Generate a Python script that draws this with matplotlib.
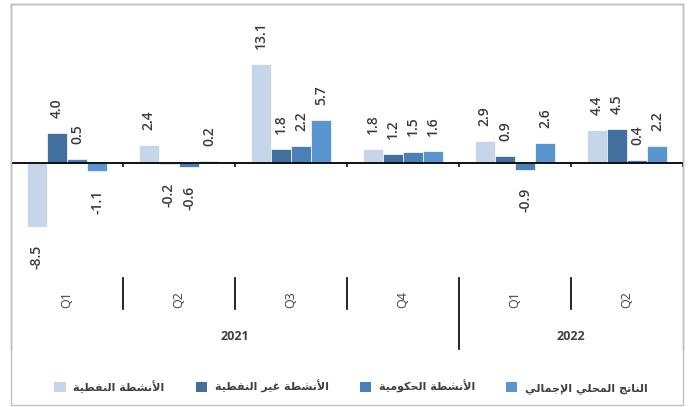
import numpy as np
import matplotlib
matplotlib.use('Agg')
from matplotlib import pyplot as plt
from matplotlib.patches import Rectangle, Patch
from matplotlib.transforms import blended_transform_factory

# data
quarters = ['Q1', 'Q2', 'Q3', 'Q4', 'Q1', 'Q2']
years = ['2021', '2022']
year_span = [(0, 3), (4, 5)]
oil = [-8.5, 2.4, 13.1, 1.8, 2.9, 4.4]
nonoil = [4.0, -0.2, 1.8, 1.2, 0.9, 4.5]
gov = [0.5, -0.6, 2.2, 1.5, -0.9, 0.4]
gdp = [-1.1, 0.2, 5.7, 1.6, 2.6, 2.2]
names = ['الأنشطة النفطية', 'الأنشطة غير النفطية', 'الأنشطة الحكومية', 'الناتج المحلي الإجمالي']
colors = ['#c5d5ea', '#41709c', '#4a80b5', '#5896cf']

# minimal arabic shaping (matplotlib has no bidi / joining)
# forms: isolated, final, initial, medial (None -> letter does not join to the next)
FORMS = {
    'ا': (0xFE8D, 0xFE8E, None, None), 'أ': (0xFE83, 0xFE84, None, None),
    'إ': (0xFE87, 0xFE88, None, None), 'ة': (0xFE93, 0xFE94, None, None),
    'ر': (0xFEAD, 0xFEAE, None, None), 'و': (0xFEED, 0xFEEE, None, None),
    'ل': (0xFEDD, 0xFEDE, 0xFEDF, 0xFEE0), 'ن': (0xFEE5, 0xFEE6, 0xFEE7, 0xFEE8),
    'ش': (0xFEB5, 0xFEB6, 0xFEB7, 0xFEB8), 'ط': (0xFEC1, 0xFEC2, 0xFEC3, 0xFEC4),
    'ف': (0xFED1, 0xFED2, 0xFED3, 0xFED4), 'ي': (0xFEF1, 0xFEF2, 0xFEF3, 0xFEF4),
    'غ': (0xFECD, 0xFECE, 0xFECF, 0xFED0), 'ح': (0xFEA1, 0xFEA2, 0xFEA3, 0xFEA4),
    'ك': (0xFED9, 0xFEDA, 0xFEDB, 0xFEDC), 'م': (0xFEE1, 0xFEE2, 0xFEE3, 0xFEE4),
    'ت': (0xFE95, 0xFE96, 0xFE97, 0xFE98), 'ج': (0xFE9D, 0xFE9E, 0xFE9F, 0xFEA0),
}
LAMALEF = {'ا': (0xFEFB, 0xFEFC), 'أ': (0xFEF7, 0xFEF8), 'إ': (0xFEF9, 0xFEFA)}


def shape(text):
    out = []
    for word in text.split(' '):
        # merge lam + alef
        units = []
        i = 0
        while i < len(word):
            if word[i] == 'ل' and i + 1 < len(word) and word[i + 1] in LAMALEF:
                units.append(('LA', word[i + 1]))
                i += 2
            else:
                units.append(('C', word[i]))
                i += 1
        res = []
        for k, (kind, ch) in enumerate(units):
            prev_joins = k > 0 and units[k - 1][0] == 'C' and FORMS[units[k - 1][1]][2] is not None
            if kind == 'LA':
                res.append(chr(LAMALEF[ch][1 if prev_joins else 0]))
                continue
            f = FORMS[ch]
            next_ok = k + 1 < len(units) and f[2] is not None
            if prev_joins and next_ok:
                res.append(chr(f[3]))
            elif prev_joins:
                res.append(chr(f[1]))
            elif next_ok:
                res.append(chr(f[2]))
            else:
                res.append(chr(f[0]))
        out.append(''.join(res))
    return ' '.join(out)[::-1]


W, H = 691, 407
fig = plt.figure(figsize=(W / 100, H / 100), dpi=100)
ax_l, ax_r, ax_t, ax_b = 11, 683, 4, 349
ax = fig.add_axes([ax_l / W, 1 - ax_b / H, (ax_r - ax_l) / W, (ax_b - ax_t) / H])

x = np.arange(len(quarters))
bw = 0.18
series = [oil, nonoil, gov, gdp]
for j, (vals, c) in enumerate(zip(series, colors)):
    pos = x + (j - 1.5) * bw
    ax.bar(pos, vals, bw, color=c, edgecolor='white', linewidth=0.5, zorder=2)
    for px, v in zip(pos, vals):
        ax.annotate('%.1f' % v, (px, v), xytext=(0, 11 if v >= 0 else -13),
                    textcoords='offset points', rotation=90, ha='center',
                    va='bottom' if v >= 0 else 'top', fontsize=10,
                    family='Open Sans', fontweight='semibold', color='#3a3a3a')

ax.set_xlim(-0.5, len(quarters) - 0.5)
ax.set_ylim(-24.7, 21.1)
ax.axhline(0, color='black', lw=1.3, zorder=3)
ax.set_xticks([])
ax.set_yticks([])
for s in ['left', 'right', 'top']:
    ax.spines[s].set_color('#a0a0a0')
    ax.spines[s].set_linewidth(1)
ax.spines['bottom'].set_visible(False)

# small ticks under zero line
bounds = np.arange(len(quarters) + 1) - 0.5
ax.vlines(bounds, -0.55, 0, color='black', lw=1.1, zorder=3)

# category axis below
tr = blended_transform_factory(ax.transData, fig.transFigure)
for i, q in enumerate(quarters):
    ax.text(x[i], 1 - 300 / H, q, transform=tr, rotation=90, ha='center', va='center',
            fontsize=9, family='Open Sans', color='#404040')
for yr, (a, b) in zip(years, year_span):
    ax.text((a + b) / 2, 1 - 337 / H, yr, transform=tr, ha='center', va='center',
            fontsize=9, family='Open Sans', fontweight='bold', color='#404040')
inner = [b for b in bounds[1:-1] if b != year_span[1][0] - 0.5]
for b in inner:
    ax.plot([b, b], [1 - 278 / H, 1 - 309 / H], transform=tr, color='black', lw=1.2, clip_on=False)
yb = year_span[1][0] - 0.5
ax.plot([yb, yb], [1 - 278 / H, 1 - 349 / H], transform=tr, color='black', lw=1.2, clip_on=False)

# outer frame lower part
fig.add_artist(Rectangle((ax_l / W, 1 - 405 / H), (ax_r - ax_l) / W, (405 - ax_t) / H,
                         transform=fig.transFigure, fill=False, edgecolor='#c0c0c0', lw=1))

handles = [Patch(facecolor=c, edgecolor='none') for c in colors]
fig.legend(handles, [shape(n) for n in names], ncol=4, loc='center',
           bbox_to_anchor=(351 / W, 1 - 387 / H), frameon=False,
           prop={'family': 'DejaVu Sans', 'size': 8, 'weight': 'bold'},
           handlelength=1.0, handleheight=1.0,
           handletextpad=0.7, columnspacing=2.8, labelcolor='#404040')

fig.savefig('out.png', dpi=100)
